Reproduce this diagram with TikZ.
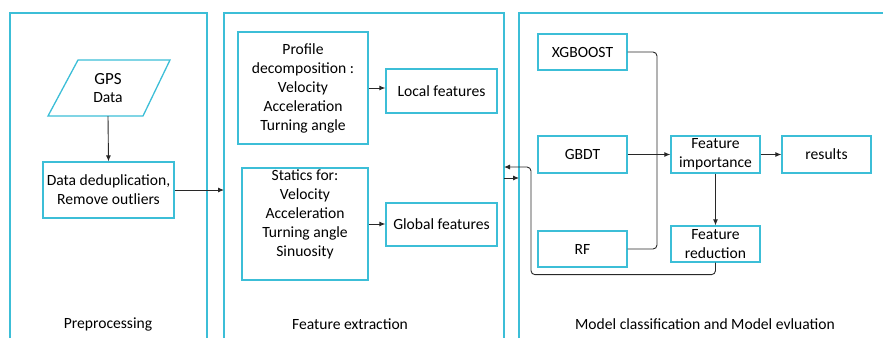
\documentclass[tikz,border=0pt]{standalone}
\usepackage{fontspec}
\setmainfont{Carlito}
\usetikzlibrary{arrows.meta}

\begin{document}
\begin{tikzpicture}[x=1pt,y=-1pt,
  font=\fontsize{15.6}{19}\selectfont]
% Define colours and styles
\definecolor{frame}{RGB}{60,190,215}
\definecolor{wire}{RGB}{40,40,40}
\tikzset{
  panel/.style={draw=frame,line width=1.3pt},
  box/.style={draw=frame,line width=1.3pt,inner sep=1pt,align=center},
  link/.style={draw=wire,line width=0.9pt},
  arr/.style={link,-{Latex[length=6pt,width=5pt]}}
}
\useasboundingbox (0,0) rectangle (883,338);

% Draw panels
\draw[panel] (10,338) -- (10,13) -- (207,13) -- (207,338);
\draw[panel] (224,338) -- (224,13) -- (504,13) -- (504,338);
\draw[panel] (519,338) -- (519,13) -- (890,13);

% Preprocessing
\draw[panel] (78,60) -- (170,60) -- (143,116) -- (48,116) -- cycle;
\node[minimum height=56pt,inner sep=0pt,align=center] (gps) at (108,88) {{\fontsize{17}{19}\selectfont GPS}\\[-1pt]Data};
\node[box,minimum width=131pt,minimum height=56pt] (dedup) at (108.5,190) {Data deduplication,\\Remove outliers};

% Feature extraction
\node[box,minimum width=130pt,minimum height=112pt] (profile) at (303,88) {Profile\\decomposition :\\Velocity\\Acceleration\\Turning angle};
\node[box,minimum width=111pt,minimum height=44pt] (local) at (441.5,91) {Local features};
\node[box,minimum width=126pt,minimum height=112pt] (statics) at (305,224) {};
\node[align=center,inner sep=0pt] (staticstxt) at (305,214.5) {Statics for:\\Velocity\\Acceleration\\Turning angle\\Sinuosity};
\node[box,minimum width=111pt,minimum height=43pt] (global) at (441.5,224.5) {Global features};

% Model classification
\node[box,minimum width=89pt,minimum height=36pt] (xgb) at (582.5,52) {XGBOOST};
\node[box,minimum width=89pt,minimum height=37pt] (gbdt) at (582.5,154.5) {GBDT};
\node[box,minimum width=89pt,minimum height=36pt] (rf) at (582.5,249) {RF};
\node[box,minimum width=89pt,minimum height=37pt] (fimp) at (715.5,154.5) {Feature\\importance};
\node[box,minimum width=89pt,minimum height=37pt] (results) at (826.5,154.5) {results};
\node[box,minimum width=89pt,minimum height=36pt] (fred) at (715.5,244) {Feature\\reduction};

% Connectors
\coordinate (p2in) at (224,190);
\coordinate (back) at (504,167);
\coordinate (out2) at (504,178);
\coordinate (in3) at (519,178);
\coordinate (join) at (657,154.5);
\draw[arr] (gps.south) -- (dedup.north);
\draw[arr] (dedup.east) -- (p2in);
\draw[arr] (profile.east |- 0,88) -- (local.west |- 0,88);
\draw[arr] (statics.east |- 0,224) -- (global.west |- 0,224);
\draw[link,rounded corners=4pt] (xgb.east) -| (join);
\draw[link,rounded corners=4pt] (rf.east) -| (join);
\draw[link] (gbdt.east) -- (join);
\draw[arr] (join) -- (fimp.west);
\draw[arr] (fimp.east) -- (results.west);
\draw[arr] (fimp.south) -- (fred.north);
\draw[arr,rounded corners=4pt] (fred.south) -- ++(0,12) -| ([xshift=27pt]back) -- (back);
\draw[arr] (out2) -- (in3);

% Panel titles
\node (pre) at (108,324) {Preprocessing};
\node (fext) at (350,324) {Feature extraction};
\node (model) at (705,324) {Model classification and Model evluation};
\end{tikzpicture}
\end{document}
